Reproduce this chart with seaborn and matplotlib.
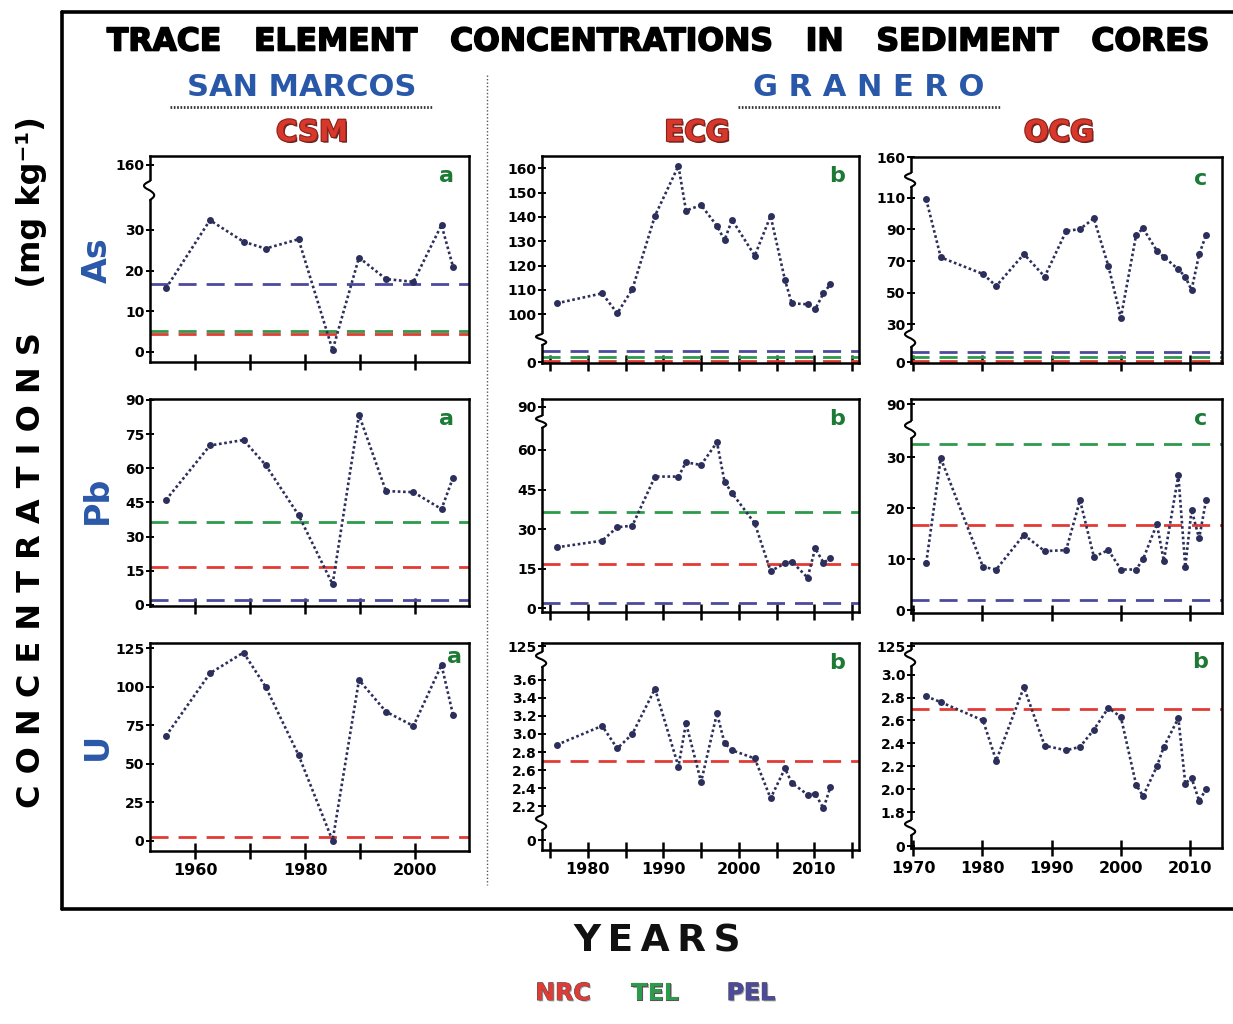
import numpy as np
import matplotlib
matplotlib.use("Agg")
import matplotlib.pyplot as plt
import matplotlib.patheffects as pe
from matplotlib.lines import Line2D
from matplotlib.ticker import FixedLocator, NullLocator, FuncFormatter
import seaborn as sns

# ---------------- data ----------------
years_csm = [1954.7, 1962.7, 1968.8, 1972.8, 1978.8, 1985.0, 1989.8, 1994.7, 1999.7, 2004.8, 2006.9]
years_ecg = [1975.9, 1981.9, 1983.9, 1985.9, 1988.9, 1992.0, 1993.0, 1995.0, 1997.1, 1998.1,
             1999.1, 2002.1, 2004.2, 2006.1, 2007.0, 2009.1, 2010.1, 2011.2, 2012.1]
years_ocg = [1971.9, 1974.0, 1980.1, 1982.0, 1986.0, 1989.0, 1992.1, 1994.1, 1996.1, 1998.2,
             2000.0, 2002.2, 2003.2, 2005.2, 2006.2, 2008.3, 2009.3, 2010.2, 2011.3, 2012.3]

as_csm = [15.6, 32.4, 27.1, 25.4, 27.7, 0.4, 23.2, 17.9, 17.2, 31.2, 20.9]
pb_csm = [46.1, 70.0, 72.4, 61.5, 39.5, 9.1, 83.4, 50.0, 49.5, 42.1, 55.9]
u_csm = [68.0, 108.7, 122.2, 100.1, 55.7, 0.0, 104.4, 83.8, 74.5, 114.1, 81.7]

as_ecg = [104.5, 108.6, 100.4, 110.3, 140.5, 161.0, 142.6, 144.9, 136.3, 130.5,
          138.8, 124.1, 140.4, 114.1, 104.5, 104.1, 102.1, 108.6, 112.3]
pb_ecg = [23.1, 25.6, 30.7, 31.3, 49.9, 49.9, 55.3, 54.3, 62.9, 48.0,
          43.6, 32.2, 14.1, 17.0, 17.7, 11.6, 22.7, 17.3, 18.9]
u_ecg = [2.88, 3.09, 2.84, 3.00, 3.50, 2.64, 3.12, 2.47, 3.23, 2.90,
         2.82, 2.73, 2.29, 2.62, 2.46, 2.33, 2.34, 2.18, 2.41]

as_ocg = [108.9, 72.3, 61.8, 54.2, 74.4, 60.1, 88.9, 90.2, 96.9, 66.8,
          34.2, 86.4, 90.6, 76.5, 72.7, 64.7, 60.1, 51.7, 74.2, 86.4]
pb_ocg = [9.3, 29.8, 8.5, 8.0, 14.8, 11.6, 11.8, 21.6, 10.5, 11.8,
          8.0, 8.0, 10.0, 16.9, 9.7, 26.5, 8.5, 19.7, 14.1, 21.6]
u_ocg = [2.81, 2.76, 2.60, 2.25, 2.89, 2.38, 2.34, 2.37, 2.52, 2.71,
         2.63, 2.04, 1.94, 2.20, 2.37, 2.62, 2.05, 2.10, 1.90, 2.00]

elements = ["As", "Pb", "U"]
cores = ["CSM", "ECG", "OCG"]

# sediment quality guidelines per element (As, Pb, U)
nrc_values = [4.3, 16.8, 2.7]
tel_values = [5.0, 36.4, None]
pel_values = [16.6, 2.0, None]

series = {
    ("As", "CSM"): (years_csm, as_csm), ("Pb", "CSM"): (years_csm, pb_csm), ("U", "CSM"): (years_csm, u_csm),
    ("As", "ECG"): (years_ecg, as_ecg), ("Pb", "ECG"): (years_ecg, pb_ecg), ("U", "ECG"): (years_ecg, u_ecg),
    ("As", "OCG"): (years_ocg, as_ocg), ("Pb", "OCG"): (years_ocg, pb_ocg), ("U", "OCG"): (years_ocg, u_ocg),
}

# ---------------- style ----------------
sns.set_theme(style="white")
plt.rcParams["font.family"] = ["DejaVu Sans"]
plt.rcParams["axes.linewidth"] = 1.8
plt.rcParams["axes.edgecolor"] = "black"

W, H = 1233, 1024
fig = plt.figure(figsize=(W / 100, H / 100), dpi=100)
fig.patch.set_facecolor("white")

NRC_C, TEL_C, PEL_C = "#e23b36", "#2e9a4c", "#4b4a9c"
LINE_C = "#2c2f5b"
BLUE = "#2a58a8"
RED = "#d8372c"
GREEN_TAG = "#1d7a35"


def fx(x):
    return x / W


def fy(y):
    return 1 - y / H


# column geometry (pixels) and year axes
col_layout = {
    "CSM": dict(x0=150, x1=469, xlim=(1951.8, 2009.8),
                ticks=[1960, 1970, 1980, 1990, 2000], labelled=[1960, 1980, 2000]),
    "ECG": dict(x0=542, x1=859, xlim=(1973.94, 2015.9),
                ticks=list(range(1975, 2016, 5)), labelled=[1980, 1990, 2000, 2010]),
    "OCG": dict(x0=911, x1=1222, xlim=(1969.7, 2014.6),
                ticks=[1970, 1980, 1990, 2000, 2010], labelled=[1970, 1980, 1990, 2000, 2010]),
}

# broken-axis geometry: knots map value -> pixel height inside the panel
panel_layout = {
    ("As", "CSM"): dict(y0=156, y1=362,
                        knots=[(-2.54, 0), (37, 160.5), (150, 180), (160, 197), (166.9, 206)],
                        ticks=[0, 10, 20, 30, 160], breaks=[(162, 181)], tag="a", tagpos=(0.93, 0.905)),
    ("As", "ECG"): dict(y0=156, y1=363,
                        knots=[(-3, 0), (0, 1), (4.3, 2.2), (5, 6.3), (16.6, 12), (93, 31.7), (165.06, 207)],
                        ticks=[0, 100, 110, 120, 130, 140, 150, 160], breaks=[(18, 29)], tag="b",
                        tagpos=(0.93, 0.905)),
    ("As", "OCG"): dict(y0=157, y1=363,
                        knots=[(-0.5, 0), (0, 0.7), (4.3, 2.0), (5, 5.7), (16.6, 10.7), (27, 33.9),
                               (116.5, 175.6), (150, 190), (160, 205.7), (160.2, 206)],
                        ticks=[0, 30, 50, 70, 90, 110, 160], breaks=[(16, 33), (176, 190)], tag="c",
                        tagpos=(0.93, 0.895)),
    ("Pb", "CSM"): dict(y0=399, y1=606, knots=[(-0.44, 0), (90.4, 207)],
                        ticks=[0, 15, 30, 45, 60, 75, 90], breaks=[], tag="a", tagpos=(0.93, 0.905)),
    ("Pb", "ECG"): dict(y0=399, y1=611.7,
                        knots=[(-1.29, 0), (68, 182.9), (85, 196), (90, 205), (94.3, 212.7)],
                        ticks=[0, 15, 30, 45, 60, 90], breaks=[(184, 196)], tag="b", tagpos=(0.93, 0.905)),
    ("Pb", "OCG"): dict(y0=399, y1=613.3,
                        knots=[(-0.6, 0), (0, 3), (31, 161.1), (36.4, 169.6), (42, 175), (85, 192),
                               (90, 209), (91.5, 214.3)],
                        ticks=[0, 10, 20, 30, 90], breaks=[(175, 192)], tag="c", tagpos=(0.93, 0.905)),
    ("U", "CSM"): dict(y0=643.3, y1=850.7, knots=[(-6.5, 0), (128.2, 207.4)],
                       ticks=[0, 25, 50, 75, 100, 125], breaks=[], tag="a", tagpos=(0.953, 0.935)),
    ("U", "ECG"): dict(y0=643, y1=850,
                       knots=[(-1, 0), (0, 10), (2.05, 30), (3.75, 183.9), (120, 198), (125, 204), (128, 207)],
                       ticks=[0, 2.2, 2.4, 2.6, 2.8, 3.0, 3.2, 3.4, 3.6, 125],
                       breaks=[(20, 35), (183, 198)], tag="b", tagpos=(0.93, 0.905)),
    ("U", "OCG"): dict(y0=642.7, y1=848.3,
                       knots=[(-0.1, 0), (0, 2.3), (1.72, 26.9), (3.08, 182.9), (120, 195), (125, 202.3),
                              (127.3, 205.6)],
                       ticks=[0, 1.8, 2.0, 2.2, 2.4, 2.6, 2.8, 3.0, 125],
                       breaks=[(13, 28), (182, 198)], tag="b", tagpos=(0.93, 0.905)),
}


def piecewise(knots):
    vk = np.array([k[0] for k in knots], float)
    pk = np.array([k[1] for k in knots], float)

    def _map(x, a, b):
        x = np.asarray(x, float)
        out = np.interp(x, a, b)
        lo_s = (b[1] - b[0]) / (a[1] - a[0])
        hi_s = (b[-1] - b[-2]) / (a[-1] - a[-2])
        out = np.where(x < a[0], b[0] + (x - a[0]) * lo_s, out)
        out = np.where(x > a[-1], b[-1] + (x - a[-1]) * hi_s, out)
        return out

    return (lambda v: _map(v, vk, pk)), (lambda p: _map(p, pk, vk)), (vk[0], vk[-1])


def fmt_tick(v, _pos=None):
    if v == 0 or v >= 10:
        return "%d" % round(v)
    return "%.1f" % v


def draw_break(ax, p_lo, p_hi, h_px, w_px):
    y0, y1 = p_lo / h_px, p_hi / h_px
    ax.plot([0, 0], [y0, y1], transform=ax.transAxes, color="white", lw=3.2,
            clip_on=False, zorder=6, solid_capstyle="butt")
    t = np.linspace(0, 1, 60)
    xs = (6.0 / w_px) * np.sin(t * 2 * np.pi) * np.where(t < 0.5, 0.7, 1.0)
    ys = y0 + (y1 - y0) * t
    ax.plot(xs, ys, transform=ax.transAxes, color="black", lw=1.5, clip_on=False, zorder=7)


for ei, el in enumerate(elements):
    for core in cores:
        cl = col_layout[core]
        pl = panel_layout[(el, core)]
        ax = fig.add_axes([fx(cl["x0"]), fy(pl["y1"]), (cl["x1"] - cl["x0"]) / W, (pl["y1"] - pl["y0"]) / H])
        fwd, inv, ylim = piecewise(pl["knots"])
        ax.set_yscale("function", functions=(fwd, inv))
        ax.set_ylim(*ylim)
        ax.set_xlim(*cl["xlim"])

        # guideline levels
        for val, col in ((nrc_values[ei], NRC_C), (tel_values[ei], TEL_C), (pel_values[ei], PEL_C)):
            if val is None:
                continue
            ax.axhline(val, color=col, lw=2.0, dashes=(6.5, 3.6), zorder=2)

        yrs, vals = series[(el, core)]
        sns.lineplot(x=yrs, y=vals, ax=ax, color=LINE_C, lw=1.9, linestyle=(0, (1, 1)),
                     marker="o", markersize=5.0, markeredgewidth=0, markerfacecolor=LINE_C,
                     sort=False, legend=False, zorder=4)

        ax.yaxis.set_major_locator(FixedLocator(pl["ticks"]))
        ax.yaxis.set_major_formatter(FuncFormatter(fmt_tick))
        ax.yaxis.set_minor_locator(NullLocator())
        ax.xaxis.set_major_locator(FixedLocator(cl["ticks"]))
        ax.xaxis.set_minor_locator(NullLocator())
        if el == "U":
            ax.set_xticklabels([str(t) if t in cl["labelled"] else "" for t in cl["ticks"]])
        else:
            ax.set_xticklabels([])
        ax.tick_params(axis="x", direction="inout", length=12, width=1.8, pad=3,
                       labelsize=11.5, bottom=True, colors="black")
        ax.tick_params(axis="y", direction="inout", length=6, width=1.4, pad=1,
                       labelsize=10, left=True, colors="black")
        for lab in ax.get_xticklabels() + ax.get_yticklabels():
            lab.set_fontweight("bold")
        ax.set_xlabel("")
        ax.set_ylabel("")
        for s in ax.spines.values():
            s.set_linewidth(1.8)
            s.set_color("black")
        ax.set_facecolor("white")
        ax.grid(False)

        for (plo, phi) in pl["breaks"]:
            draw_break(ax, plo, phi, pl["y1"] - pl["y0"], cl["x1"] - cl["x0"])

        ax.text(pl["tagpos"][0], pl["tagpos"][1], pl["tag"], transform=ax.transAxes,
                color=GREEN_TAG, fontsize=16, fontweight="bold", ha="center", va="center", zorder=8)

# ---------------- frame and headings ----------------
frame_kw = dict(color="black", lw=2.6, transform=fig.transFigure)
fig.add_artist(Line2D([fx(62), fx(62)], [fy(12), fy(909)], **frame_kw))
fig.add_artist(Line2D([fx(62), fx(1233)], [fy(12), fy(12)], **frame_kw))
fig.add_artist(Line2D([fx(62), fx(1233)], [fy(909), fy(909)], **frame_kw))

fig.add_artist(Line2D([fx(487), fx(487)], [fy(75), fy(885)], color="#555555", lw=1.0,
                      linestyle=(0, (1, 1.5)), transform=fig.transFigure))

fig.text(fx(657), fy(42), "TRACE   ELEMENT   CONCENTRATIONS   IN   SEDIMENT   CORES",
         ha="center", va="center", fontsize=22.6, fontweight="bold", color="black",
         path_effects=[pe.withStroke(linewidth=1.2, foreground="black")])

fig.text(fx(302), fy(88), "SAN MARCOS", ha="center", va="center", fontsize=22,
         fontweight="bold", color=BLUE)
fig.text(fx(869), fy(88), "G R A N E R O", ha="center", va="center", fontsize=22,
         fontweight="bold", color=BLUE)
for x0, x1 in ((170, 432), (738, 1000)):
    fig.add_artist(Line2D([fx(x0), fx(x1)], [fy(107), fy(107)], color="#333333", lw=2.0,
                          linestyle=(0, (0.6, 0.6)), transform=fig.transFigure))

red_fx = [pe.withSimplePatchShadow(offset=(1.2, -1.2), shadow_rgbFace="#4a1410", alpha=0.9),
          pe.withStroke(linewidth=1.6, foreground="#8a221a")]
for name, x in (("CSM", 312), ("ECG", 697), ("OCG", 1059)):
    fig.text(fx(x), fy(133), name, ha="center", va="center", fontsize=21, fontweight="bold",
             color=RED, path_effects=red_fx)

for name, y in (("As", 260), ("Pb", 500), ("U", 746)):
    fig.text(fx(97), fy(y), name, ha="center", va="center", rotation=90, fontsize=24,
             fontweight="bold", color=BLUE)

fig.text(fx(32), fy(462), "C O N C E N T R A T I O N S    (mg kg⁻¹)", ha="center", va="center",
         rotation=90, fontsize=23, fontweight="bold", color="black")

fig.text(fx(657), fy(942), "Y\u2009E\u2009A\u2009R\u2009S", ha="center", va="center", fontsize=27,
         fontweight="bold", color="#111111")

leg_fx = [pe.withSimplePatchShadow(offset=(1.0, -1.0), shadow_rgbFace="#777777", alpha=0.6),
          pe.withStroke(linewidth=0.8, foreground="#555555")]
for name, x, c in (("NRC", 563, NRC_C), ("TEL", 655, TEL_C), ("PEL", 751, PEL_C)):
    fig.text(fx(x), fy(993), name, ha="center", va="center", fontsize=17, fontweight="bold",
             color=c, path_effects=leg_fx)

fig.savefig("out.png", dpi=100, facecolor="white")
